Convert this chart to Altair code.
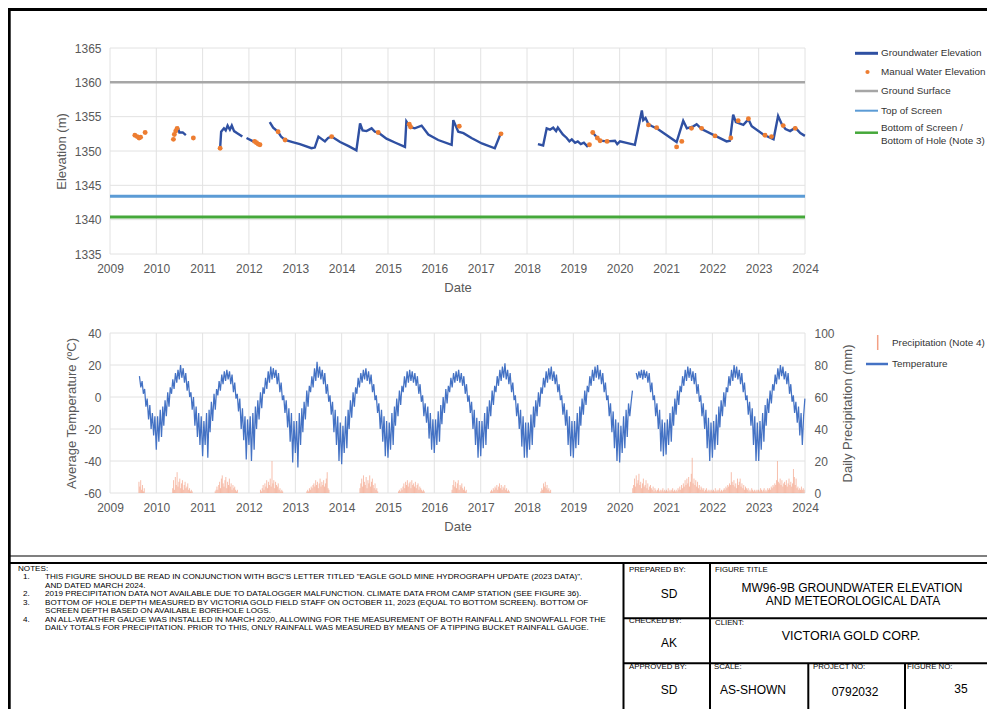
import altair as alt
import pandas as pd

# ------------------------------------------------------------------ values
YEARS = list(range(2009, 2025))
ELEV_TICKS = [1335, 1340, 1345, 1350, 1355, 1360, 1365]
TEMP_TICKS = [-60, -40, -20, 0, 20, 40]
PRECIP_TICKS = [0, 20, 40, 60, 80, 100]

GROUND_SURFACE = 1360.0
TOP_OF_SCREEN = 1343.4
BOTTOM_OF_SCREEN = 1340.4

# groundwater elevation (logger), one list per continuous record
GW_2010 = [("2010-06-03", 1353.1), ("2010-06-21", 1353.3), ("2010-07-02", 1352.7),
           ("2010-07-28", 1352.7), ("2010-08-22", 1352.3)]
GW_2011 = [("2011-05-19", 1350.4), ("2011-05-27", 1352.8), ("2011-06-18", 1353.3),
           ("2011-07-02", 1353.0), ("2011-07-17", 1353.7), ("2011-08-04", 1353.1),
           ("2011-08-19", 1353.7), ("2011-09-06", 1352.9), ("2011-10-01", 1352.6),
           ("2011-11-10", 1352.1)]
GW_2012A = [("2011-12-13", 1351.9), ("2012-02-03", 1351.4), ("2012-03-01", 1351.2),
            ("2012-04-08", 1350.8)]
GW_2012_2017 = [("2012-06-13", 1354.2), ("2012-07-10", 1353.4), ("2012-08-18", 1352.8),
                ("2012-09-10", 1352.1), ("2012-10-12", 1351.6), ("2012-12-10", 1351.3),
                ("2013-02-06", 1351.0), ("2013-05-08", 1350.4), ("2013-06-03", 1350.5),
                ("2013-07-02", 1352.1), ("2013-08-22", 1351.4), ("2013-09-16", 1351.9),
                ("2013-10-14", 1352.1), ("2013-12-20", 1351.3), ("2014-02-25", 1350.7),
                ("2014-04-27", 1350.1), ("2014-05-26", 1354.0), ("2014-06-15", 1353.0),
                ("2014-07-16", 1352.9), ("2014-08-25", 1353.3), ("2014-09-20", 1352.8),
                ("2014-10-16", 1352.7), ("2014-12-20", 1351.8), ("2015-03-01", 1351.2),
                ("2015-05-15", 1350.6), ("2015-05-26", 1354.3), ("2015-06-24", 1353.5),
                ("2015-07-31", 1353.3), ("2015-09-23", 1353.7), ("2015-11-15", 1352.4),
                ("2016-02-01", 1351.6), ("2016-05-17", 1350.9), ("2016-05-30", 1354.5),
                ("2016-07-08", 1352.8), ("2016-08-18", 1352.6), ("2016-10-20", 1351.9),
                ("2017-01-10", 1351.1), ("2017-04-22", 1350.4), ("2017-06-02", 1352.3)]
GW_2018_2019 = [("2018-03-28", 1351.0), ("2018-05-08", 1350.8), ("2018-06-05", 1353.3),
                ("2018-07-01", 1353.1), ("2018-07-26", 1353.4), ("2018-08-18", 1352.9),
                ("2018-09-01", 1353.4), ("2018-10-10", 1352.4), ("2018-11-10", 1351.9),
                ("2018-12-01", 1351.4), ("2018-12-20", 1351.7), ("2019-01-15", 1351.2),
                ("2019-02-05", 1351.4), ("2019-03-01", 1351.0), ("2019-03-25", 1351.2),
                ("2019-04-20", 1350.7), ("2019-05-08", 1350.9)]
GW_2019_2023 = [("2019-06-03", 1352.7), ("2019-07-09", 1351.9), ("2019-07-31", 1351.5),
                ("2019-09-24", 1351.4), ("2019-11-25", 1351.5), ("2019-12-13", 1351.0),
                ("2020-01-04", 1351.4), ("2020-04-30", 1350.9), ("2020-06-24", 1355.9),
                ("2020-07-05", 1354.5), ("2020-07-23", 1354.8), ("2020-08-15", 1353.9),
                ("2020-09-13", 1353.6), ("2020-10-19", 1353.3), ("2021-03-25", 1351.3),
                ("2021-05-16", 1354.4), ("2021-06-14", 1353.3), ("2021-08-04", 1353.6),
                ("2021-08-30", 1353.9), ("2021-10-08", 1353.2), ("2022-04-23", 1351.4),
                ("2022-05-19", 1351.5), ("2022-06-14", 1355.3), ("2022-07-05", 1354.2),
                ("2022-09-02", 1353.8), ("2022-10-12", 1354.6), ("2022-11-07", 1353.6),
                ("2023-02-06", 1352.4), ("2023-04-28", 1351.7), ("2023-06-03", 1355.1),
                ("2023-07-02", 1353.9), ("2023-07-31", 1353.2), ("2023-09-06", 1352.9),
                ("2023-10-16", 1353.4), ("2023-11-25", 1352.6), ("2023-12-31", 1352.2)]
GW_RECORDS = [GW_2010, GW_2011, GW_2012A, GW_2012_2017, GW_2018_2019, GW_2019_2023]

MANUAL_DATES = ["2009-07-16", "2009-08-03", "2009-08-18", "2009-08-30", "2009-10-05",
                "2010-05-16", "2010-05-23", "2010-06-03", "2010-06-14", "2010-10-20",
                "2011-05-19", "2012-02-15", "2012-03-01", "2012-03-15", "2012-03-28",
                "2012-08-18", "2012-10-12", "2013-10-14", "2014-10-16", "2015-06-18",
                "2015-06-28", "2016-07-16", "2017-06-10", "2019-05-08", "2019-06-03",
                "2019-07-09", "2019-07-31", "2019-09-24", "2020-08-15", "2020-10-19",
                "2021-03-25", "2021-05-05", "2021-07-20", "2021-10-08", "2022-01-22",
                "2022-05-26", "2022-07-23", "2022-10-12", "2023-02-20", "2023-04-12",
                "2023-07-13", "2023-10-16"]
MANUAL_ELEV = [1352.3, 1352.1, 1351.9, 1352.0, 1352.7,
               1351.7, 1352.4, 1352.9, 1353.3, 1351.9,
               1350.4, 1351.4, 1351.2, 1351.0, 1350.9,
               1352.8, 1351.6, 1352.1, 1352.7, 1353.9,
               1353.5, 1353.6, 1352.5, 1350.9, 1352.7,
               1351.9, 1351.5, 1351.4, 1353.8, 1353.4,
               1350.6, 1351.4, 1353.3, 1353.3, 1352.2,
               1351.9, 1354.4, 1354.7, 1352.3, 1352.1,
               1353.7, 1353.3]

# average temperature, read on the 1st, 11th and 21st of each month (None = no record)
TEMP_2009 = [13, 6, 10, 2, 5, -6, -1, -14, -5, -20, -10, -24, -12]     # from 21 Aug 2009
TEMP_2010 = [-33, -12, -28, -8, -25, -6, -18, -2, -12, 3, -6, 6, 2, 11, 5, 15, 9, 17,
             11, 20, 12, 18, 9, 15, 4, 10, 0, 3, -8, 0, -18, -6, -25, -10, -30, -12]
TEMP_2011 = [-37, -15, -30, -10, -38, -8, -22, -3, -15, 2, -8, 5, 1, 10, 4, 14, 8, 16,
             10, 17, 11, 16, 8, 14, 3, 9, -1, 2, -9, -1, -20, -7, -27, -12, -39, -14]
TEMP_2012 = [-30, -12, -40, -10, -33, -6, -20, -2, -14, 3, -7, 6, 2, 12, 5, 16, 9, 19,
             11, 18, 12, 17, 8, 15, 3, 9, -2, 1, -10, -2, -19, -7, -28, -10, -41, -15]
TEMP_2013 = [-35, -15, -44, -10, -30, -7, -22, -3, -14, 4, -6, 7, 3, 13, 6, 18, 10, 22,
             12, 19, 11, 17, 8, 15, 2, 8, -3, 1, -11, -3, -22, -8, -30, -12, -40, -16]
TEMP_2014 = [-42, -18, -35, -12, -32, -8, -20, -2, -13, 3, -6, 6, 2, 12, 6, 15, 9, 17,
             11, 18, 10, 16, 8, 14, 3, 8, -2, 1, -10, -4, -20, -8, -28, -12, -37, -15]
TEMP_2015 = [-38, -16, -33, -10, -30, -6, -18, -1, -12, 4, -5, 7, 3, 13, 6, 16, 9, 17,
             10, 16, 9, 15, 7, 13, 2, 8, -3, 1, -12, -4, -16, -6, -26, -10, -33, -14]
TEMP_2016 = [-35, -14, -30, -9, -28, -5, -17, 0, -10, 5, -4, 7, 3, 12, 6, 15, 9, 16,
             10, 17, 9, 15, 7, 13, 2, 8, -3, 1, -10, -3, -20, -8, -30, -13, -38, -15]
TEMP_2017 = [-37, -15, -32, -10, -30, -6, -20, -2, -12, 4, -5, 7, 3, 13, 7, 17, 10, 19,
             12, 21, 11, 17, 8, 15, 3, 9, -2, 1, -12, -4, -20, -8, -31, -12, -38, -16]
TEMP_2018 = [-38, -16, -33, -11, -30, -6, -19, -2, -12, 3, -6, 6, 2, 12, 6, 16, 9, 18,
             11, 19, 10, 16, 8, 14, 3, 8, -2, 1, -11, -4, -18, -8, -30, -12, -37, -15]
TEMP_2019 = [-38, -15, -32, -10, -30, -6, -18, -1, -11, 4, -5, 7, 3, 13, 7, 17, 10, 19,
             12, 20, 11, 17, 8, 15, 3, 9, -2, 1, -12, -4, -22, -9, -32, -14, -40, -16]
TEMP_2020 = [-41, -18, -35, -12, -32, -8, -25, -4, -12, -3, 4, None, None, 15, 11, 16, 12, 17,
             11, 17, 12, 16, 9, 15, 3, 9, -2, 1, -12, -4, -20, -8, -34, -14, -37, -16]
TEMP_2021 = [-36, -14, -30, -10, -28, -6, -18, -1, -11, 4, -5, 7, 3, 13, 7, 17, 10, 19,
             12, 18, 10, 16, 8, 15, 2, 8, -3, 1, -12, -4, -20, -8, -32, -13, -40, -16]
TEMP_2022 = [-38, -15, -33, -11, -30, -6, -19, -2, -12, 3, -6, 6, 3, 13, 7, 17, 10, 20,
             12, 19, 11, 17, 8, 15, 3, 9, -2, 1, -11, -3, -18, -7, -30, -12, -40, -16]
TEMP_2023 = [-40, -15, -33, -10, -28, -5, -18, -1, -10, 4, -4, 8, 4, 14, 8, 18, 11, 20,
             13, 19, 11, 16, 8, 15, 2, 8, -3, 1, -10, -3, -16, -6, -24, -10, -30, -12]
TEMP_FINAL = ("2023-12-31", -1)
TEMP_BY_YEAR = [(2009, TEMP_2009), (2010, TEMP_2010), (2011, TEMP_2011), (2012, TEMP_2012),
                (2013, TEMP_2013), (2014, TEMP_2014), (2015, TEMP_2015), (2016, TEMP_2016),
                (2017, TEMP_2017), (2018, TEMP_2018), (2019, TEMP_2019), (2020, TEMP_2020),
                (2021, TEMP_2021), (2022, TEMP_2022), (2023, TEMP_2023)]

# daily precipitation, weekly readings (first date, values in mm)
PRECIP_2009 = ("2009-08-17", [7, 4, 8, 2, 5, 1, 3])
PRECIP_2010 = ("2010-05-10", [3, 8, 2, 10, 5, 13, 4, 7, 9, 3, 6, 8, 2, 5, 7, 3, 4, 6, 2, 3, 1, 2, 1])
PRECIP_2011 = ("2011-04-10", [1, 2, 4, 2, 5, 7, 3, 9, 11, 6, 4, 8, 10, 3, 7, 5, 9, 4, 6, 2, 5, 3, 4, 2, 1, 2])
PRECIP_2012 = ("2012-04-01", [2, 1, 3, 5, 2, 6, 4, 8, 3, 7, 5, 9, 4, 20, 6, 8, 3, 7, 5, 4, 6, 2, 3, 1, 2, 1])
PRECIP_2013 = ("2013-04-01", [1, 2, 1, 3, 2, 4, 3, 5, 6, 4, 8, 5, 7, 3, 6, 9, 4, 7, 5, 8, 4, 6, 9, 13, 3, 2])
PRECIP_2014 = ("2014-05-25", [3, 6, 9, 4, 11, 7, 5, 10, 3, 8, 6, 11, 4, 7, 9, 5, 3, 6, 2, 3, 1])
PRECIP_2015 = ("2015-03-25", [1, 2, 1, 3, 2, 4, 6, 3, 7, 5, 8, 4, 6, 7, 3, 8, 5, 6, 4, 7, 3, 5, 6, 2, 4, 3, 2, 1, 2, 1])
PRECIP_2016 = ("2016-05-20", [2, 5, 8, 4, 7, 3, 6, 8, 2, 5, 4, 6, 3, 2, 4, 1, 2])
PRECIP_2017 = ("2017-03-20", [1, 2, 1, 3, 2, 4, 3, 5, 2, 4, 6, 3, 5, 2, 4, 3, 5, 2, 3, 1, 2, 1])
PRECIP_2018 = ("2018-04-20", [1, 3, 2, 6, 4, 7, 3, 5, 2, 3, 1, 2])
PRECIP_2020 = ("2020-04-13", [3, 5, 9, 4, 11, 6, 8, 12, 5, 7, 3, 6, 9, 4, 5, 8, 3, 6, 2, 4, 5, 3, 2, 4,
                              1, 3, 2, 1, 2, 3, 1, 2, 1, 2, 3, 1, 2, 1])
PRECIP_2021 = ("2021-01-04", [2, 1, 3, 1, 2, 1, 2, 3, 1, 2, 1, 2, 1, 3, 2, 4, 2, 5, 3, 6, 4, 8, 5, 9, 6, 10,
                              4, 7, 12, 22, 6, 9, 5, 8, 4, 7, 3, 5, 2, 4, 3, 2, 3, 1, 2, 3, 1, 2, 1, 2, 1, 2])
PRECIP_2022 = ("2022-01-03", [1, 2, 1, 3, 1, 2, 1, 2, 3, 1, 2, 1, 2, 3, 2, 4, 3, 5, 4, 6, 5, 13, 7, 5, 8, 4,
                              6, 3, 9, 5, 7, 9, 4, 6, 3, 5, 2, 4, 3, 2, 3, 1, 2, 1, 3, 2, 1, 2, 1, 2, 1, 2])
PRECIP_2023 = ("2023-01-02", [2, 1, 3, 2, 1, 2, 3, 1, 2, 1, 3, 2, 3, 2, 4, 3, 5, 4, 6, 5, 8, 20, 7, 6, 9, 5,
                              8, 4, 6, 7, 5, 8, 4, 6, 9, 5, 7, 4, 6, 15, 10, 5, 9, 3, 4, 2, 3, 2, 4, 2, 3, 2])
PRECIP_RUNS = [PRECIP_2009, PRECIP_2010, PRECIP_2011, PRECIP_2012, PRECIP_2013, PRECIP_2014,
               PRECIP_2015, PRECIP_2016, PRECIP_2017, PRECIP_2018, PRECIP_2020, PRECIP_2021,
               PRECIP_2022, PRECIP_2023]

LEGEND_TOP = ["Groundwater Elevation", "Manual Water Elevation", "Ground Surface",
              "Top of Screen", "Bottom of Screen /", "Bottom of Hole (Note 3)"]
LEGEND_BOTTOM = ["Precipitation (Note 4)", "Temperature"]

NOTES = [
    ("1.", "THIS FIGURE SHOULD BE READ IN CONJUNCTION WITH BGC'S LETTER TITLED \"EAGLE GOLD MINE HYDROGRAPH UPDATE (2023 DATA)\","),
    ("", "AND DATED MARCH 2024."),
    ("2.", "2019 PRECIPITATION DATA NOT AVAILABLE DUE TO DATALOGGER MALFUNCTION. CLIMATE DATA FROM CAMP STATION (SEE FIGURE 36)."),
    ("3.", "BOTTOM OF HOLE DEPTH MEASURED BY VICTORIA GOLD FIELD STAFF ON OCTOBER 11, 2023 (EQUAL TO BOTTOM SCREEN). BOTTOM OF"),
    ("", "SCREEN DEPTH BASED ON AVAILABLE BOREHOLE LOGS."),
    ("4.", "AN ALL-WEATHER GAUGE WAS INSTALLED IN MARCH 2020, ALLOWING FOR THE MEASUREMENT OF BOTH RAINFALL AND SNOWFALL FOR THE"),
    ("", "DAILY TOTALS FOR PRECIPITATION. PRIOR TO THIS, ONLY RAINFALL WAS MEASURED BY MEANS OF A TIPPING BUCKET RAINFALL GAUGE."),
]

# ------------------------------------------------------------------ tables
gw_rows = []
for i, rec in enumerate(GW_RECORDS):
    for d, v in rec:
        gw_rows.append({"date": d, "elev": v, "seg": i})
gw_df = pd.DataFrame(gw_rows)
man_df = pd.DataFrame({"date": MANUAL_DATES, "elev": MANUAL_ELEV})


def reading_days(year):
    return [f"{year}-{m:02d}-{d:02d}" for m in range(1, 13) for d in (1, 11, 21)]


temp_rows, seg = [], 0
for year, vals in TEMP_BY_YEAR:
    for d, v in zip(reading_days(year)[-len(vals):], vals):
        if v is None:
            seg += 1
            continue
        temp_rows.append({"date": d, "temp": v, "seg": seg})
temp_rows.append({"date": TEMP_FINAL[0], "temp": TEMP_FINAL[1], "seg": seg})
temp_df = pd.DataFrame(temp_rows)

pr_rows = []
for start, vals in PRECIP_RUNS:
    for d, v in zip(pd.date_range(start, periods=len(vals), freq="7D"), vals):
        pr_rows.append({"date": d.strftime("%Y-%m-%d"), "mm": v})
pr_df = pd.DataFrame(pr_rows)

year_df = pd.DataFrame({"date": [f"{y}-01-01" for y in YEARS]})

# ------------------------------------------------------------------ layout / style
W, H = 979, 701
PX0, PX1 = 102, 797          # 2009 .. 2024
TOP_B, TOP_T = 246, 40       # 1335 .. 1365
BOT_B, BOT_T = 485, 325      # -60 .. 40  /  0 .. 100
FONT = "Liberation Sans, Arial, sans-serif"
AXIS_GREY = "#595959"
GRID = "#E2E2E2"
GW_BLUE = "#2F50A2"
ORANGE = "#ED7D31"
GROUND_GREY = "#A6A6A6"
SCREEN_BLUE = "#5B9BD5"
GREEN = "#45A83A"
TEMP_BLUE = "#4472C4"
PRECIP_RED = "#F3A085"


def jan1(y):
    return alt.DateTime(year=y, month=1, date=1, utc=True)


def xs():
    return alt.Scale(type="utc", domain=[jan1(2009), jan1(2024)], range=[PX0, PX1])


ELEV_S = alt.Scale(domain=[1335, 1365], range=[TOP_B, TOP_T], nice=False, zero=False)
TEMP_S = alt.Scale(domain=[-60, 40], range=[BOT_B, BOT_T], nice=False, zero=False)
PREC_S = alt.Scale(domain=[0, 100], range=[BOT_B, BOT_T], nice=False, zero=False)

AX = dict(grid=False, domain=False, ticks=False, labelFont=FONT, labelFontSize=12,
          labelColor=AXIS_GREY, titleFont=FONT, titleFontSize=13, titleColor=AXIS_GREY,
          titleFontWeight="normal")


def x_axis(ypix):
    return alt.Axis(orient="bottom", offset=ypix - H, values=[jan1(y) for y in YEARS],
                    format="%Y", labelPadding=9, labelOverlap=False, labelFlush=False,
                    title="Date", titlePadding=7, **AX)


def X_none():
    return alt.X("date:T", scale=xs(), axis=None)


layers = []

# frame of the sheet and title block
layers.append(alt.Chart().mark_rect(fillOpacity=0, stroke="black", strokeWidth=3).encode(
    x=alt.value(1.2), x2=alt.value(W + 40), y=alt.value(1.5), y2=alt.value(H + 40)))


def hline(x1, x2, y, w=2, color="black"):
    return alt.Chart().mark_rule(color=color, strokeWidth=w).encode(
        x=alt.value(x1), x2=alt.value(x2), y=alt.value(y))


def vline(x, y1, y2, w=2, color="black"):
    return alt.Chart().mark_rule(color=color, strokeWidth=w).encode(
        x=alt.value(x), y=alt.value(y1), y2=alt.value(y2))


def txt(x, y, s, size, align="left", color="black"):
    return alt.Chart().mark_text(text=s, align=align, baseline="middle", font=FONT,
                                 fontSize=size, color=color).encode(
        x=alt.value(x), y=alt.value(y))


layers += [
    hline(0, W + 20, 548, 1.2),
    hline(0, W + 20, 555, 2),
    vline(615.5, 555, H + 20),
    vline(702, 555, H + 20),
    hline(615.5, W + 20, 610.3),
    hline(615.5, W + 20, 655.3),
    vline(800.3, 655.3, H + 20),
    vline(897, 655.3, H + 20),
]
SMALL = 7.8
layers += [
    txt(621, 562, "PREPARED BY:", SMALL), txt(661, 586, "SD", 12, "center"),
    txt(621, 613, "CHECKED BY:", SMALL), txt(661, 635, "AK", 12, "center"),
    txt(621, 659, "APPROVED BY:", SMALL), txt(661, 682, "SD", 12, "center"),
    txt(707, 562, "FIGURE TITLE", SMALL),
    txt(844, 580, "MW96-9B GROUNDWATER ELEVATION", 12, "center"),
    txt(845, 593, "AND METEOROLOGICAL DATA", 12, "center"),
    txt(707, 615, "CLIENT:", SMALL),
    txt(843, 628, "VICTORIA GOLD CORP.", 12.5, "center"),
    txt(706, 659, "SCALE:", SMALL), txt(745, 682, "AS-SHOWN", 12, "center"),
    txt(805, 659, "PROJECT NO:", SMALL), txt(847, 684, "0792032", 12, "center"),
    txt(899, 659, "FIGURE NO:", SMALL), txt(953, 681, "35", 12, "center"),
]
NOTE_SIZE = 8.1
NOTE_Y0, NOTE_STEP = 560.5, 8.5
layers.append(txt(10, NOTE_Y0, "NOTES:", NOTE_SIZE))
for i, (num, line) in enumerate(NOTES):
    ypos = NOTE_Y0 + NOTE_STEP * (i + 1)
    if num:
        layers.append(txt(15, ypos, num, NOTE_SIZE))
    layers.append(txt(37, ypos, line, NOTE_SIZE))

# ---- upper chart: groundwater elevation
layers.append(alt.Chart(year_df).mark_rule(color=GRID, strokeWidth=1).encode(
    x=X_none(),
    y=alt.YDatum(1365, type="quantitative", scale=ELEV_S, axis=None),
    y2=alt.Y2Datum(1335)))
layers.append(alt.Chart(pd.DataFrame({"v": ELEV_TICKS})).mark_rule(color=GRID, strokeWidth=1).encode(
    y=alt.Y("v:Q", scale=ELEV_S, axis=None),
    x=alt.XDatum(jan1(2009), type="temporal", scale=xs(), axis=None),
    x2=alt.X2Datum(jan1(2024))))
for level, color, width in [(GROUND_SURFACE, GROUND_GREY, 2.5),
                            (TOP_OF_SCREEN, SCREEN_BLUE, 3),
                            (BOTTOM_OF_SCREEN, GREEN, 3)]:
    layers.append(alt.Chart(pd.DataFrame({"elev": [level]})).mark_rule(
        color=color, strokeWidth=width).encode(
        y=alt.Y("elev:Q", scale=ELEV_S, axis=None),
        x=alt.XDatum(jan1(2009), type="temporal", scale=xs(), axis=None),
        x2=alt.X2Datum(jan1(2024))))
layers.append(alt.Chart(gw_df).mark_line(color=GW_BLUE, strokeWidth=2.4).encode(
    x=alt.X("date:T", scale=xs(), axis=x_axis(TOP_B)),
    y=alt.Y("elev:Q", scale=ELEV_S,
            axis=alt.Axis(orient="left", offset=-PX0, values=ELEV_TICKS,
                          labelExpr="'' + datum.value", labelPadding=9,
                          title="Elevation (m)", titlePadding=6, **AX)),
    detail="seg:N"))
layers.append(alt.Chart(man_df).mark_circle(color=ORANGE, size=24, opacity=1).encode(
    x=X_none(), y=alt.Y("elev:Q", scale=ELEV_S, axis=None)))

# ---- lower chart: temperature and precipitation
layers.append(alt.Chart(year_df).mark_rule(color=GRID, strokeWidth=1).encode(
    x=X_none(),
    y=alt.YDatum(40, type="quantitative", scale=TEMP_S, axis=None),
    y2=alt.Y2Datum(-60)))
layers.append(alt.Chart(pd.DataFrame({"v": TEMP_TICKS})).mark_rule(color=GRID, strokeWidth=1).encode(
    y=alt.Y("v:Q", scale=TEMP_S, axis=None),
    x=alt.XDatum(jan1(2009), type="temporal", scale=xs(), axis=None),
    x2=alt.X2Datum(jan1(2024))))
layers.append(alt.Chart(pr_df).mark_rule(color=PRECIP_RED, strokeWidth=0.8, opacity=0.85).encode(
    x=X_none(),
    y=alt.Y("mm:Q", scale=PREC_S,
            axis=alt.Axis(orient="right", offset=PX1 - W, values=PRECIP_TICKS,
                          labelExpr="'' + datum.value", labelPadding=9,
                          title="Daily Precipitation (mm)", titleAngle=270,
                          titleBaseline="top", titlePadding=7, **AX)),
    y2=alt.Y2Datum(0)))
layers.append(alt.Chart(temp_df).mark_line(color=TEMP_BLUE, strokeWidth=1.25).encode(
    x=alt.X("date:T", scale=xs(), axis=x_axis(BOT_B)),
    y=alt.Y("temp:Q", scale=TEMP_S,
            axis=alt.Axis(orient="left", offset=-PX0, values=TEMP_TICKS,
                          labelExpr="'' + datum.value", labelPadding=9,
                          title="Average Temperature (\u00baC)", titlePadding=5, **AX)),
    detail="seg:N"))

# ---- legends
LEG_TXT = "#333333"
LEG_SIZE = 9.9
LEG_X = 873
top_rows = [45.3, 64, 83, 102.7]
layers += [
    hline(847, 870, top_rows[0], 3, GW_BLUE),
    alt.Chart().mark_circle(color=ORANGE, size=18, opacity=1).encode(
        x=alt.value(859.5), y=alt.value(top_rows[1])),
    hline(847, 870, top_rows[2], 2.5, GROUND_GREY),
    hline(847, 870, top_rows[3], 2, SCREEN_BLUE),
    hline(847, 870, 124.7, 2.5, GREEN),
]
for y, s in zip(top_rows + [119.5, 133], LEGEND_TOP):
    layers.append(txt(LEG_X, y, s, LEG_SIZE, "left", LEG_TXT))
layers += [
    vline(869.7, 327, 342, 1.5, PRECIP_RED),
    hline(858, 880, 356, 2.5, TEMP_BLUE),
    txt(884, 334.5, LEGEND_BOTTOM[0], LEG_SIZE, "left", LEG_TXT),
    txt(884, 356, LEGEND_BOTTOM[1], LEG_SIZE, "left", LEG_TXT),
]

chart = alt.layer(*layers).resolve_scale(x="independent", y="independent").properties(
    width=W, height=H, autosize=alt.AutoSizeParams(type="none"), padding=0,
    background="white",
).configure_view(stroke="transparent")

chart.save("out.html", embed_options={"renderer": "svg", "actions": False})
